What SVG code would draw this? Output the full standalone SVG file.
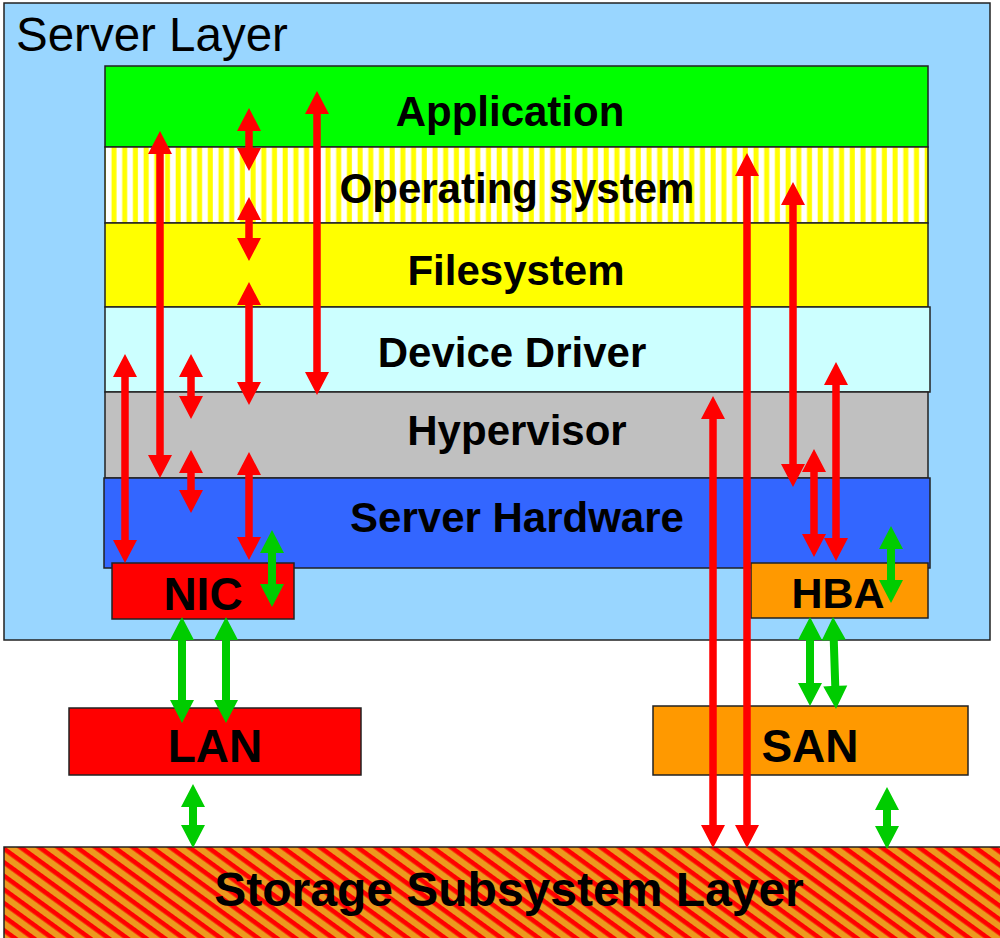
<svg xmlns="http://www.w3.org/2000/svg" width="1000" height="938" viewBox="0 0 1000 938">
<defs>
<pattern id="osStripes" patternUnits="userSpaceOnUse" x="105" y="0" width="10.7" height="20">
<rect width="10.7" height="20" fill="#ffffff"/>
<rect x="6.5" width="5" height="20" fill="#ffff00"/>
<rect x="-4.2" width="5" height="20" fill="#ffff00"/>
</pattern>
<pattern id="hatch" patternUnits="userSpaceOnUse" width="20" height="11" patternTransform="rotate(36)">
<rect width="20" height="11" fill="#ec9a1e"/>
<rect width="20" height="4.6" fill="#ff0000"/>
</pattern>
<style>
.box{stroke:#222;stroke-width:1.5}
.lbl{font-family:"Liberation Sans",Arial,sans-serif;font-weight:bold;fill:#000;text-anchor:middle}
.red{fill:#ff0000}
.grn{fill:#00cc00}
</style>
</defs>
<rect width="1000" height="938" fill="#ffffff"/>
<g id="server-layer">
<rect class="box" x="4" y="3" width="986" height="637" fill="#99d6ff"/>
<text x="16" y="51" font-family="Liberation Sans, Arial, sans-serif" font-size="47.5" fill="#000">Server Layer</text>
</g>
<g id="application">
<rect class="box" x="105" y="66" width="823" height="81" fill="#00ff00"/>
<text class="lbl" x="510" y="126" font-size="42">Application</text>
</g>
<g id="operating-system">
<rect class="box" x="105" y="147" width="823" height="76" fill="url(#osStripes)"/>
<text class="lbl" x="517" y="203" font-size="42">Operating system</text>
</g>
<g id="filesystem">
<rect class="box" x="105" y="223" width="823" height="84" fill="#ffff00"/>
<text class="lbl" x="516" y="285" font-size="42">Filesystem</text>
</g>
<g id="device-driver">
<rect class="box" x="105" y="307" width="825" height="85" fill="#ccffff"/>
<text class="lbl" x="512" y="367" font-size="42">Device Driver</text>
</g>
<g id="hypervisor">
<rect class="box" x="105" y="392" width="823" height="86" fill="#c0c0c0"/>
<text class="lbl" x="517" y="445" font-size="42">Hypervisor</text>
</g>
<g id="server-hardware">
<rect class="box" x="104" y="478" width="826" height="90" fill="#3366ff"/>
<text class="lbl" x="517" y="532" font-size="42">Server Hardware</text>
</g>
<g id="nic">
<rect class="box" x="112" y="563" width="182" height="56" fill="#ff0000"/>
<text class="lbl" x="203" y="610" font-size="46">NIC</text>
</g>
<g id="hba">
<rect class="box" x="751" y="563" width="177" height="55" fill="#ff9900"/>
<text class="lbl" x="838" y="608" font-size="43">HBA</text>
</g>
<g id="lan">
<rect class="box" x="69" y="708" width="292" height="67" fill="#ff0000"/>
<text class="lbl" x="215" y="762" font-size="46">LAN</text>
</g>
<g id="san">
<rect class="box" x="653" y="706" width="315" height="69" fill="#ff9900"/>
<text class="lbl" x="810" y="762" font-size="46">SAN</text>
</g>
<g id="storage">
<rect class="box" x="4" y="847" width="1000" height="95" fill="url(#hatch)"/>
<text class="lbl" x="509" y="906" font-size="48">Storage Subsystem Layer</text>
</g>
<g id="connectors">
<path class="red" d="M160,131 L172,154 L163.75,154 L163.75,455 L172,455 L160,478 L148,455 L156.25,455 L156.25,154 L148,154 Z"/>
<path class="red" d="M249,108 L261,131 L252.75,131 L252.75,148 L261,148 L249,171 L237,148 L245.25,148 L245.25,131 L237,131 Z"/>
<path class="red" d="M249,197 L261,220 L252.75,220 L252.75,238 L261,238 L249,261 L237,238 L245.25,238 L245.25,220 L237,220 Z"/>
<path class="red" d="M249,282 L261,305 L252.75,305 L252.75,382 L261,382 L249,405 L237,382 L245.25,382 L245.25,305 L237,305 Z"/>
<path class="red" d="M317,91 L329,114 L320.75,114 L320.75,372 L329,372 L317,395 L305,372 L313.25,372 L313.25,114 L305,114 Z"/>
<path class="red" d="M125,354 L137,377 L128.75,377 L128.75,540 L137,540 L125,563 L113,540 L121.25,540 L121.25,377 L113,377 Z"/>
<path class="red" d="M191,354 L203,377 L194.75,377 L194.75,396 L203,396 L191,419 L179,396 L187.25,396 L187.25,377 L179,377 Z"/>
<path class="red" d="M191,450 L203,473 L194.75,473 L194.75,490 L203,490 L191,513 L179,490 L187.25,490 L187.25,473 L179,473 Z"/>
<path class="red" d="M249,452 L261,475 L252.75,475 L252.75,537 L261,537 L249,560 L237,537 L245.25,537 L245.25,475 L237,475 Z"/>
<path class="red" d="M713,396 L725,419 L716.75,419 L716.75,825 L725,825 L713,848 L701,825 L709.25,825 L709.25,419 L701,419 Z"/>
<path class="red" d="M747,153 L759,176 L750.75,176 L750.75,825 L759,825 L747,848 L735,825 L743.25,825 L743.25,176 L735,176 Z"/>
<path class="red" d="M793,182 L805,205 L796.75,205 L796.75,464 L805,464 L793,487 L781,464 L789.25,464 L789.25,205 L781,205 Z"/>
<path class="red" d="M814,449 L826,472 L817.75,472 L817.75,534 L826,534 L814,557 L802,534 L810.25,534 L810.25,472 L802,472 Z"/>
<path class="red" d="M836,362 L848,385 L839.75,385 L839.75,538 L848,538 L836,561 L824,538 L832.25,538 L832.25,385 L824,385 Z"/>
<path class="grn" d="M272,530 L284,553 L276,553 L276,584 L284,584 L272,607 L260,584 L268,584 L268,553 L260,553 Z"/>
<path class="grn" d="M891,526 L903,549 L895,549 L895,580 L903,580 L891,603 L879,580 L887,580 L887,549 L879,549 Z"/>
<path class="grn" d="M182,617 L194,640 L186,640 L186,700 L194,700 L182,723 L170,700 L178,700 L178,640 L170,640 Z"/>
<path class="grn" d="M226,617 L238,640 L230,640 L230,700 L238,700 L226,723 L214,700 L222,700 L222,640 L214,640 Z"/>
<path class="grn" d="M193,784 L205,807 L197,807 L197,825 L205,825 L193,848 L181,825 L189,825 L189,807 L181,807 Z"/>
<path class="grn" d="M810,617 L822,640 L814,640 L814,683 L822,683 L810,706 L798,683 L806,683 L806,640 L798,640 Z"/>
<path class="grn" transform="rotate(-1.87 834.5 663)" d="M834.5,617 L846.5,640 L838.5,640 L838.5,686 L846.5,686 L834.5,709 L822.5,686 L830.5,686 L830.5,640 L822.5,640 Z"/>
<path class="grn" d="M887,787 L899,810 L891,810 L891,826 L899,826 L887,849 L875,826 L883,826 L883,810 L875,810 Z"/>
</g>
</svg>
